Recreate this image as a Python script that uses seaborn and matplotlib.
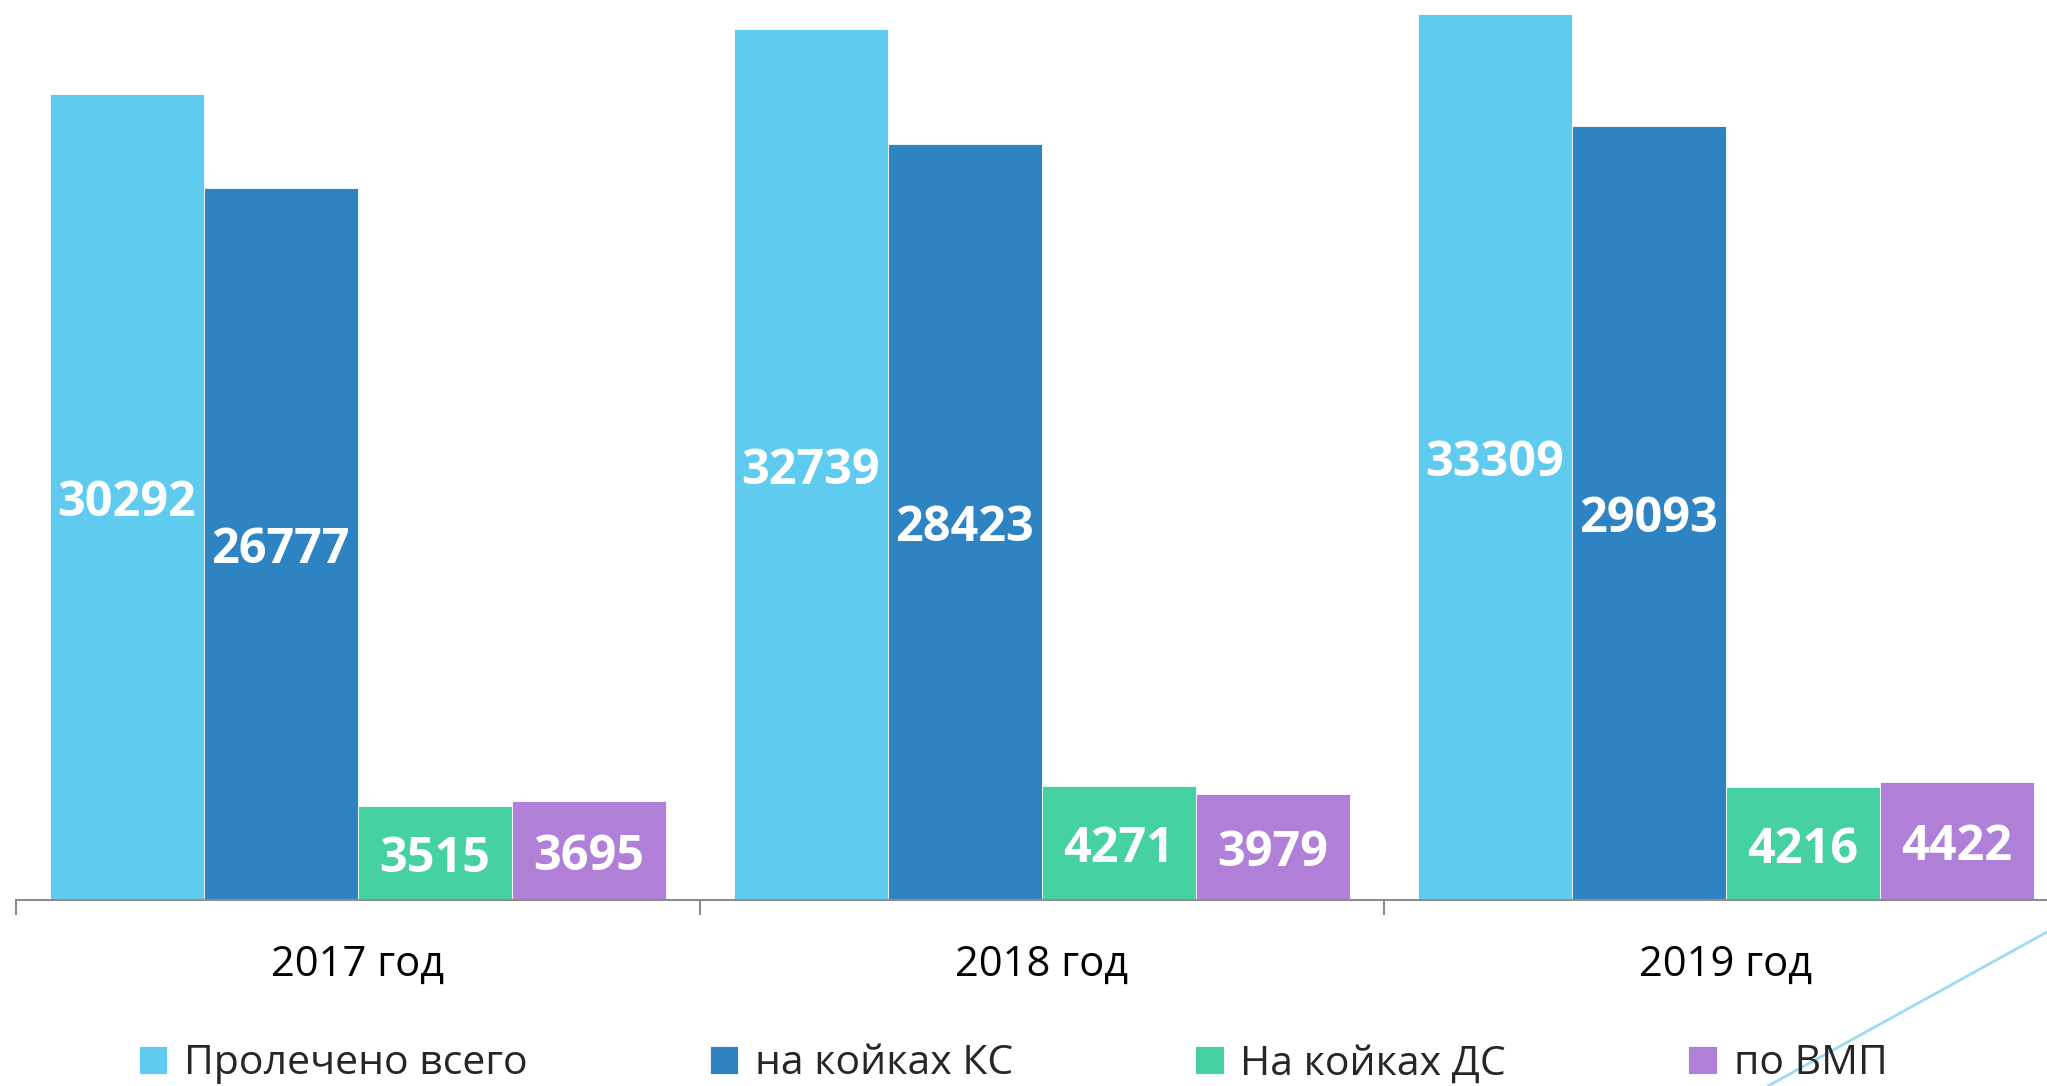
import pandas as pd
import matplotlib.pyplot as plt
from matplotlib.lines import Line2D
import seaborn as sns

years = ["2017 год", "2018 год", "2019 год"]
series = ["Пролечено всего", "на койках КС", "На койках ДС", "по ВМП"]
total = [30292, 32739, 33309]
ks = [26777, 28423, 29093]
ds = [3515, 4271, 4216]
vmp = [3695, 3979, 4422]
colors = ["#5FCBEF", "#2E84C3", "#45D1A2", "#B07FD7"]


def build_frame():
    rows = []
    for name, vals in zip(series, [total, ks, ds, vmp]):
        for y, v in zip(years, vals):
            rows.append({"year": y, "series": name, "value": v})
    return pd.DataFrame(rows)


def bar_chart(df: pd.DataFrame):
    sns.set_theme(style="white")
    plt.rcParams["font.family"] = ["Open Sans", "DejaVu Sans"]

    fig = plt.figure(figsize=(20.47, 10.86), dpi=100)
    ax = fig.add_axes([15.7 / 2047, 186.5 / 1086, 2052 / 2047, 899.5 / 1086])

    sns.barplot(data=df, x="year", y="value", hue="series", palette=colors,
                width=0.9, gap=0, saturation=1, edgecolor="white", linewidth=0.6,
                legend=True, ax=ax)

    for cont in ax.containers:
        texts = ax.bar_label(cont, label_type="center", color="white", fontsize=35,
                             fontweight="bold")
        for t in texts:
            t.xyann = (0, -5)  # Excel puts the label a bit below the middle

    ax.set_xlim(-0.5, 2.5)
    ax.set_ylim(0, 33840)
    ax.set_xlabel("")
    ax.set_ylabel("")
    ax.set_yticks([])
    for s in ["left", "top", "right"]:
        ax.spines[s].set_visible(False)
    ax.spines["bottom"].set_color("#8C8C8C")
    ax.spines["bottom"].set_linewidth(1.5)

    # tick marks between categories, labels at the centres
    ax.set_xticks([-0.5, 0.5, 1.5, 2.5], minor=True)
    ax.tick_params(axis="x", which="minor", length=11, width=1.5, color="#8C8C8C",
                   bottom=True)
    ax.tick_params(axis="x", which="major", length=0, pad=32, labelsize=30,
                   labelcolor="black")

    handles, labels = ax.get_legend_handles_labels()
    ax.get_legend().remove()
    fig.legend(handles, labels, loc="center", bbox_to_anchor=(1013 / 2047, 22 / 1086),
               ncol=4, frameon=False, fontsize=29.5, handlelength=0.7,
               handleheight=0.7, handletextpad=0.4, columnspacing=4.45,
               borderaxespad=0)

    # decorative diagonal line in the corner
    fig.add_artist(Line2D([1768 / 2047, 1.0], [0.0, 154 / 1086],
                          transform=fig.transFigure, color="#9CDBF0", lw=2))

    fig.savefig("out.png", dpi=100)


bar_chart(build_frame())
